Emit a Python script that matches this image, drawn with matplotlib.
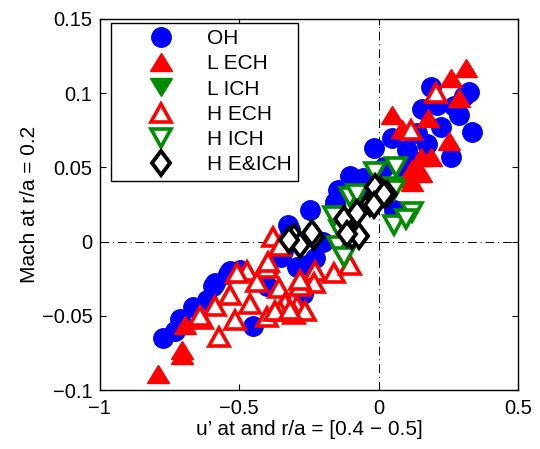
import matplotlib
matplotlib.use('Agg')
import matplotlib.pyplot as plt
from matplotlib.markers import MarkerStyle
from matplotlib.transforms import Affine2D

plt.rcParams['font.family'] = ['Liberation Sans', 'DejaVu Sans']

# OH
oh_x = [0.187, 0.325, 0.337, 0.157, 0.259, -0.017, 0.049, 0.223, 0.270, 0.139,
        -0.101, -0.054, 0.103, 0.175, 0.306, 0.290, 0.210, 0.120, 0.090,
        -0.144, -0.155, -0.245, -0.324, 0.054, -0.256,
        -0.317, -0.342, -0.227, -0.532, -0.586, -0.616, -0.270, -0.292, -0.155,
        -0.772, -0.730, -0.712, -0.665, -0.593, -0.540, -0.496, -0.450, -0.400,
        -0.350, -0.200, -0.050, 0.020]
oh_y = [0.104, 0.101, 0.074, 0.089, 0.057, 0.063, 0.070, 0.077, 0.091, 0.073,
        0.044, 0.043, 0.062, 0.066, 0.098, 0.085, 0.092, 0.055, 0.048,
        0.035, 0.027, 0.021, 0.011, 0.021, -0.016,
        0.008, -0.006, -0.011, -0.020, -0.028, -0.039, -0.035, -0.017, 0.024,
        -0.065, -0.060, -0.052, -0.044, -0.030, -0.022, -0.019, -0.057, -0.030,
        -0.010, 0.000, 0.035, 0.050]

# L ECH
lech_x = [0.313, 0.259, 0.288, 0.176, 0.049, 0.085, 0.252, 0.151, 0.187, 0.121,
          0.151, 0.108, 0.121, -0.790, -0.706, -0.706, -0.694, -0.400]
lech_y = [0.117, 0.110, 0.097, 0.083, 0.085, 0.076, 0.068, 0.057, 0.057, 0.049,
          0.046, 0.043, 0.040, -0.089, -0.073, -0.076, -0.056, -0.015]

# L ICH (hidden under the other series)
lich_x = []
lich_y = []

# H ECH
hech_x = [0.205, 0.115, -0.377, -0.472, -0.400, -0.227, -0.161, -0.101, -0.233, -0.281,
          -0.359, -0.437, -0.532, -0.586, -0.460, -0.335, -0.292, -0.514, -0.634, -0.400,
          -0.305, -0.263, -0.574, -0.352, -0.508, -0.395, -0.281, -0.370, -0.317, -0.353,
          -0.640]
hech_y = [0.100, 0.075, 0.003, -0.020, -0.018, -0.020, -0.021, -0.016, -0.028, -0.030,
          -0.031, -0.027, -0.036, -0.043, -0.042, -0.041, -0.043, -0.053, -0.052, -0.051,
          -0.049, -0.047, -0.064, -0.047, -0.021, -0.014, -0.026, -0.047, -0.046, -0.003,
          -0.050]

# H ICH
hich_x = [0.061, -0.011, 0.043, -0.101, 0.121, 0.055, 0.097, -0.137, -0.144, -0.125,
          -0.161, 0.055, -0.077]
hich_y = [0.050, 0.047, 0.037, 0.030, 0.020, 0.011, 0.015, 0.008, -0.003, -0.010,
          0.017, 0.035, 0.032]

# H E&ICH
heich_x = [-0.305, -0.281, -0.233, -0.125, -0.077, -0.095, -0.071, -0.029, -0.005, 0.007,
           0.031, -0.011, -0.323, -0.239, -0.112, 0.019, -0.017]
heich_y = [0.003, -0.002, 0.003, 0.015, 0.019, 0.004, 0.004, 0.026, 0.029, 0.035,
           0.032, 0.037, 0.001, 0.006, 0.005, 0.032, 0.025]

green = (0, 0.55, 0)
squash = Affine2D().scale(1.0, 0.85)
tri_up = MarkerStyle('^', transform=squash)
tri_dn = MarkerStyle('v', transform=squash)
diamond = MarkerStyle('D', transform=Affine2D().scale(0.8, 1.0))

fig = plt.figure(figsize=(5.4, 4.49), dpi=100)
ax = fig.add_axes([0.185, 0.131, 0.774, 0.827])

ax.axvline(0, color='k', lw=0.7, ls=(0, (9, 4, 1, 4)), zorder=1)
ax.axhline(0, color='k', lw=0.7, ls=(0, (9, 4, 1, 4)), zorder=1)

ax.plot(oh_x, oh_y, 'o', ms=14, mfc='b', mec='b', label='OH')
ax.plot(lech_x, lech_y, marker=tri_up, ls='none', ms=16, mfc='r', mec='r', label='L ECH')
ax.plot(lich_x, lich_y, marker=tri_dn, ls='none', ms=16, mfc=green, mec=green,
        label='L ICH')
ax.plot(hech_x, hech_y, marker=tri_up, ls='none', ms=14.5, mfc='w', mec='r', mew=2.6,
        label='H ECH')
ax.plot(hich_x, hich_y, marker=tri_dn, ls='none', ms=14.5, mfc='w', mec=green, mew=2.6,
        label='H ICH')
ax.plot(heich_x, heich_y, marker=diamond, ls='none', ms=12, mfc='w', mec='k',
        mew=2.8, label='H E&ICH')

ax.set_xlim(-1, 0.5)
ax.set_ylim(-0.1, 0.15)
ax.set_xticks([-1, -0.5, 0, 0.5])
ax.set_xticklabels(['\u22121', '\u22120.5', '0', '0.5'])
ax.set_yticks([-0.1, -0.05, 0, 0.05, 0.1, 0.15])
ax.set_yticklabels(['\u22120.1', '\u22120.05', '0', '0.05', '0.1', '0.15'])
ax.tick_params(direction='in', top=True, right=True, length=4, width=0.8,
               labelsize=14.5)
ax.tick_params(axis='x', pad=6)
ax.tick_params(axis='y', pad=5.5)
for s in ax.spines.values():
    s.set_linewidth(1.0)

ax.set_xlabel('u\u2019 at and r/a = [0.4 \u2212 0.5]', fontsize=15, labelpad=2)
ax.set_ylabel('Mach at r/a = 0.2', fontsize=15, labelpad=2)

leg = ax.legend(loc='upper left', bbox_to_anchor=(0.026, 0.989), fontsize=15,
                fancybox=False, framealpha=1, edgecolor='k', borderpad=0.3,
                labelspacing=0.3, handlelength=4.2, handletextpad=0.1,
                borderaxespad=0)
leg.get_frame().set_linewidth(1.0)

plt.savefig('out.png', dpi=100)
